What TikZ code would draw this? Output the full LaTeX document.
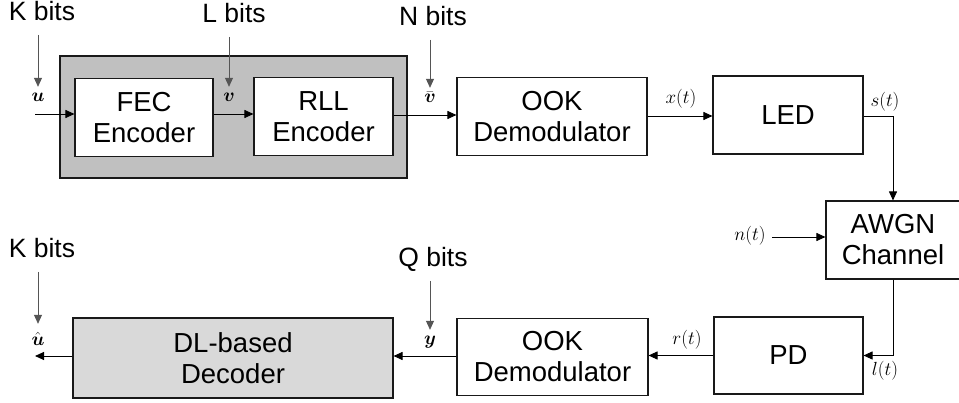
\documentclass[tikz,border=0pt]{standalone}
\usepackage{fix-cm}
\usepackage{amsmath}
\usepackage{fontspec}
\setmainfont{Liberation Sans}
\usetikzlibrary{arrows.meta,calc}
\definecolor{outergray}{HTML}{C0C0C0}
\definecolor{decgray}{HTML}{D9D9D9}
\definecolor{bitgray}{HTML}{555555}
\newcommand{\mlabsize}{\fontsize{19}{21}\selectfont}
\begin{document}
\begin{tikzpicture}[x=1pt,y=-1pt,
  box/.style={draw=black!90,line width=1.1pt,fill=white,align=center,inner sep=0pt,
    font=\fontsize{27.5}{31}\selectfont},
  bittext/.style={inner sep=0pt,anchor=base,font=\fontsize{26.5}{31}\selectfont},
  mlab/.style={inner sep=0pt,text height=8pt,text depth=2pt,font=\mlabsize},
  conn/.style={line width=0.9pt,-{Triangle[length=9pt,width=8pt]}},
  bitarrow/.style={draw=bitgray,line width=0.8pt,-{Triangle[length=9pt,width=8pt]},
    shorten <=14pt,shorten >=7pt},
]
\useasboundingbox (0,0) rectangle (959,403);
\clip (0,0) rectangle (959,403);
% transmitter outer box
\node[draw=black!90,line width=1.1pt,fill=outergray,minimum width=347pt,minimum height=122pt,inner sep=0pt] (tx) at (233.5,117) {};
\node[box,minimum width=138pt,minimum height=78pt] (fec) at (144,117.5) {FEC\\Encoder};
\node[box,minimum width=139pt,minimum height=78pt] (rll) at (323.5,116.5) {RLL\\Encoder};
\node[box,minimum width=190pt,minimum height=78pt] (ook1) at (552,116.5) {OOK\\Demodulator};
\node[box,minimum width=150pt,minimum height=78pt] (led) at (788,115) {LED};
\node[box,minimum width=134pt,minimum height=78pt] (awgn) at (893,240) {AWGN\\Channel};
\node[box,minimum width=149pt,minimum height=77pt] (pd) at (788.5,355.5) {PD};
\node[box,minimum width=191pt,minimum height=77pt] (ook2) at (552.5,357) {OOK\\Demodulator};
\node[box,fill=decgray,minimum width=320pt,minimum height=80pt] (dec) at (233,358) {DL-based\\Decoder};

% bit count texts
\node[bittext] (kbtop) at (42,21) {K bits};
\node[bittext] (lb) at (234,23) {L bits};
\node[bittext] (nb) at (433,26) {N bits};
\node[bittext] (kbbot) at (42,258) {K bits};
\node[bittext] (qb) at (433,267) {Q bits};

% math labels
\node[mlab] (ulab) at (38,99) {\mlabsize$\boldsymbol{u}$};
\node[mlab] (vlab) at (229,99) {\mlabsize$\boldsymbol{v}$};
\node[mlab] (vbarlab) at (430,100) {\mlabsize$\bar{\boldsymbol{v}}$};
\node[mlab] (xlab) at (681,101) {\mlabsize$x(t)$};
\node[mlab] (slab) at (885,104) {\mlabsize$s(t)$};
\node[mlab] (nlab) at (750,238) {\mlabsize$n(t)$};
\node[mlab] (llab) at (885,373) {\mlabsize$l(t)$};
\node[mlab] (rlab) at (687,342) {\mlabsize$r(t)$};
\node[mlab] (ylab) at (430,342) {\mlabsize$\boldsymbol{y}$};
\node[mlab,text height=12pt] (uhlab) at (38,341) {\mlabsize$\hat{\boldsymbol{u}}$};

% bit arrows
\draw[bitarrow] (kbtop.base -| ulab) -- (ulab.north);
\draw[bitarrow] (lb.base -| vlab) -- (vlab.north);
\draw[bitarrow] (nb.base -| vbarlab) -- (vbarlab.north);
\draw[bitarrow,shorten >=10pt] (kbbot.base -| uhlab) -- (uhlab.north);
\draw[bitarrow] (qb.base -| ylab) -- (ylab.north);

% connectors
\coordinate (uin) at (35,114);
\coordinate (nin) at (772,237);
\coordinate (uout) at (35,356);
\draw[conn] (uin) -- (uin -| fec.west);
\draw[conn] (fec.east |- 0,114) -- (rll.west |- 0,114);
\draw[conn] (rll.east |- 0,115) -- (ook1.west |- 0,115);
\draw[conn] (ook1.east |- 0,116) -- (led.west |- 0,116);
\draw[conn] (led.east |- 0,116) -| (awgn.north);
\draw[conn] (nin) -- (nin -| awgn.west);
\draw[conn] (awgn.south) |- (pd.east);
\draw[conn] (pd.west) -- (ook2.east |- pd.west);
\draw[conn] (ook2.west |- uout) -- (dec.east |- uout);
\draw[conn] (dec.west |- uout) -- (uout);
\end{tikzpicture}
\end{document}
